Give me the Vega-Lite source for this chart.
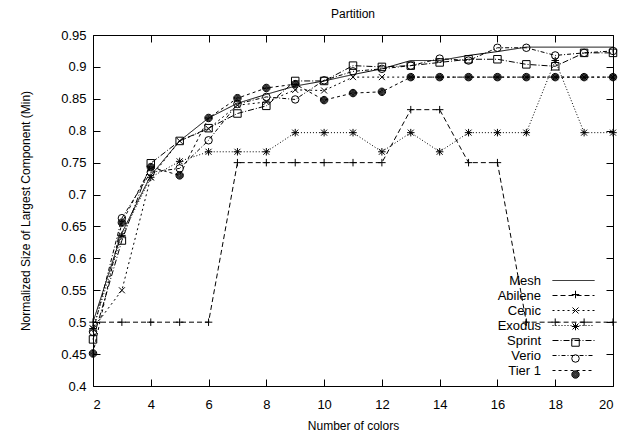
{
  "$schema": "https://vega.github.io/schema/vega-lite/v6.json",
  "width": 520,
  "height": 351,
  "autosize": {"type": "none"},
  "padding": {"left": 93, "top": 35, "right": 21, "bottom": 50},
  "background": "white",
  "title": {"text": "Partition", "fontSize": 12, "font": "Liberation Sans", "fontWeight": "normal", "offset": 8, "anchor": "middle", "color": "black"},
  "config": {
    "view": {"stroke": "black", "strokeWidth": 1},
    "font": "Liberation Sans",
    "axis": {"grid": false, "domain": false, "tickColor": "black", "labelColor": "black", "titleColor": "black", "labelFontSize": 13, "titleFontSize": 12, "titleFontWeight": "normal", "labelFont": "Liberation Sans", "titleFont": "Liberation Sans"}
  },
  "data": {"values": [
    {"s":"Mesh","x":2,"y":0.5},{"s":"Mesh","x":3,"y":0.64},{"s":"Mesh","x":4,"y":0.73},{"s":"Mesh","x":5,"y":0.784},{"s":"Mesh","x":6,"y":0.82},{"s":"Mesh","x":7,"y":0.843},{"s":"Mesh","x":8,"y":0.857},{"s":"Mesh","x":9,"y":0.870},{"s":"Mesh","x":10,"y":0.878},{"s":"Mesh","x":11,"y":0.888},{"s":"Mesh","x":12,"y":0.897},{"s":"Mesh","x":13,"y":0.91},{"s":"Mesh","x":14,"y":0.91},{"s":"Mesh","x":15,"y":0.918},{"s":"Mesh","x":16,"y":0.924},{"s":"Mesh","x":17,"y":0.931},{"s":"Mesh","x":18,"y":0.931},{"s":"Mesh","x":19,"y":0.931},{"s":"Mesh","x":20,"y":0.931},
    {"s":"Abilene","x":2,"y":0.5},{"s":"Abilene","x":3,"y":0.5},{"s":"Abilene","x":4,"y":0.5},{"s":"Abilene","x":5,"y":0.5},{"s":"Abilene","x":6,"y":0.5},{"s":"Abilene","x":7,"y":0.75},{"s":"Abilene","x":8,"y":0.75},{"s":"Abilene","x":9,"y":0.75},{"s":"Abilene","x":10,"y":0.75},{"s":"Abilene","x":11,"y":0.75},{"s":"Abilene","x":12,"y":0.75},{"s":"Abilene","x":13,"y":0.833},{"s":"Abilene","x":14,"y":0.833},{"s":"Abilene","x":15,"y":0.75},{"s":"Abilene","x":16,"y":0.75},{"s":"Abilene","x":17,"y":0.5},{"s":"Abilene","x":18,"y":0.5},{"s":"Abilene","x":19,"y":0.5},{"s":"Abilene","x":20,"y":0.5},
    {"s":"Cenic","x":2,"y":0.49},{"s":"Cenic","x":3,"y":0.55},{"s":"Cenic","x":4,"y":0.727},{"s":"Cenic","x":5,"y":0.784},{"s":"Cenic","x":6,"y":0.803},{"s":"Cenic","x":7,"y":0.84},{"s":"Cenic","x":8,"y":0.845},{"s":"Cenic","x":9,"y":0.864},{"s":"Cenic","x":10,"y":0.863},{"s":"Cenic","x":11,"y":0.884},{"s":"Cenic","x":12,"y":0.884},{"s":"Cenic","x":13,"y":0.884},{"s":"Cenic","x":14,"y":0.884},{"s":"Cenic","x":15,"y":0.884},{"s":"Cenic","x":16,"y":0.884},{"s":"Cenic","x":17,"y":0.884},{"s":"Cenic","x":18,"y":0.884},{"s":"Cenic","x":19,"y":0.884},{"s":"Cenic","x":20,"y":0.884},
    {"s":"Exodus","x":2,"y":0.49},{"s":"Exodus","x":3,"y":0.636},{"s":"Exodus","x":4,"y":0.727},{"s":"Exodus","x":5,"y":0.752},{"s":"Exodus","x":6,"y":0.767},{"s":"Exodus","x":7,"y":0.767},{"s":"Exodus","x":8,"y":0.767},{"s":"Exodus","x":9,"y":0.797},{"s":"Exodus","x":10,"y":0.797},{"s":"Exodus","x":11,"y":0.797},{"s":"Exodus","x":12,"y":0.767},{"s":"Exodus","x":13,"y":0.797},{"s":"Exodus","x":14,"y":0.767},{"s":"Exodus","x":15,"y":0.797},{"s":"Exodus","x":16,"y":0.797},{"s":"Exodus","x":17,"y":0.797},{"s":"Exodus","x":18,"y":0.91},{"s":"Exodus","x":19,"y":0.797},{"s":"Exodus","x":20,"y":0.797},
    {"s":"Sprint","x":2,"y":0.473},{"s":"Sprint","x":3,"y":0.628},{"s":"Sprint","x":4,"y":0.749},{"s":"Sprint","x":5,"y":0.784},{"s":"Sprint","x":6,"y":0.804},{"s":"Sprint","x":7,"y":0.827},{"s":"Sprint","x":8,"y":0.839},{"s":"Sprint","x":9,"y":0.878},{"s":"Sprint","x":10,"y":0.878},{"s":"Sprint","x":11,"y":0.902},{"s":"Sprint","x":12,"y":0.900},{"s":"Sprint","x":13,"y":0.902},{"s":"Sprint","x":14,"y":0.907},{"s":"Sprint","x":15,"y":0.912},{"s":"Sprint","x":16,"y":0.912},{"s":"Sprint","x":17,"y":0.904},{"s":"Sprint","x":18,"y":0.901},{"s":"Sprint","x":19,"y":0.922},{"s":"Sprint","x":20,"y":0.922},
    {"s":"Verio","x":2,"y":0.485},{"s":"Verio","x":3,"y":0.663},{"s":"Verio","x":4,"y":0.735},{"s":"Verio","x":5,"y":0.741},{"s":"Verio","x":6,"y":0.785},{"s":"Verio","x":7,"y":0.842},{"s":"Verio","x":8,"y":0.853},{"s":"Verio","x":9,"y":0.849},{"s":"Verio","x":10,"y":0.879},{"s":"Verio","x":11,"y":0.893},{"s":"Verio","x":12,"y":0.897},{"s":"Verio","x":13,"y":0.902},{"s":"Verio","x":14,"y":0.913},{"s":"Verio","x":15,"y":0.910},{"s":"Verio","x":16,"y":0.930},{"s":"Verio","x":17,"y":0.930},{"s":"Verio","x":18,"y":0.918},{"s":"Verio","x":19,"y":0.922},{"s":"Verio","x":20,"y":0.925},
    {"s":"Tier 1","x":2,"y":0.451},{"s":"Tier 1","x":3,"y":0.656},{"s":"Tier 1","x":4,"y":0.743},{"s":"Tier 1","x":5,"y":0.730},{"s":"Tier 1","x":6,"y":0.820},{"s":"Tier 1","x":7,"y":0.851},{"s":"Tier 1","x":8,"y":0.867},{"s":"Tier 1","x":9,"y":0.873},{"s":"Tier 1","x":10,"y":0.848},{"s":"Tier 1","x":11,"y":0.859},{"s":"Tier 1","x":12,"y":0.861},{"s":"Tier 1","x":13,"y":0.884},{"s":"Tier 1","x":14,"y":0.884},{"s":"Tier 1","x":15,"y":0.884},{"s":"Tier 1","x":16,"y":0.884},{"s":"Tier 1","x":17,"y":0.884},{"s":"Tier 1","x":18,"y":0.884},{"s":"Tier 1","x":19,"y":0.884},{"s":"Tier 1","x":20,"y":0.884}
  ]},
  "resolve": {"axis": {"x": "independent", "y": "independent"}},
  "layer": [
    {
      "mark": {"type": "line", "stroke": "black", "strokeWidth": 1},
      "encoding": {
        "x": {"field": "x", "type": "quantitative", "scale": {"domain": [2, 20], "nice": false, "zero": false},
              "axis": {"orient": "bottom", "values": [2,4,6,8,10,12,14,16,18,20], "tickSize": -7, "labelPadding": 19, "title": "Number of colors", "titlePadding": 9}},
        "y": {"field": "y", "type": "quantitative", "scale": {"domain": [0.4, 0.95], "nice": false, "zero": false},
              "axis": {"orient": "left", "values": [0.4,0.45,0.5,0.55,0.6,0.65,0.7,0.75,0.8,0.85,0.9,0.95], "format": "~g", "tickSize": -7, "labelPadding": 14, "title": "Normalized Size of Largest Component (Min)", "titlePadding": 28}},
        "strokeDash": {"field": "s", "type": "nominal",
          "scale": {"domain": ["Mesh","Abilene","Cenic","Exodus","Sprint","Verio","Tier 1"], "range": [[1,0],[5,3],[2,3],[1,2],[6,2,1,2],[4,2,1,2],[3,3]]},
          "legend": {"title": null, "orient": "none", "legendX": 473, "legendY": 238, "padding": 0, "symbolType": "M-3,0H3", "symbolSize": 196, "symbolStrokeColor": "black", "symbolStrokeWidth": 1, "labelAlign": "right", "labelOffset": -40, "labelFontSize": 13, "labelColor": "black", "labelFont": "Liberation Sans", "rowPadding": 0, "labelLimit": 200}}
      }
    },
    {
      "transform": [{"filter": "datum.s !== 'Mesh'"}],
      "mark": {"type": "point", "stroke": "black", "strokeWidth": 1, "size": 56, "filled": false, "opacity": 1},
      "encoding": {
        "x": {"field": "x", "type": "quantitative", "axis": {"orient": "top", "values": [2,4,6,8,10,12,14,16,18,20], "labels": false, "tickSize": -7, "title": null}},
        "y": {"field": "y", "type": "quantitative", "axis": {"orient": "right", "values": [0.4,0.45,0.5,0.55,0.6,0.65,0.7,0.75,0.8,0.85,0.9,0.95], "labels": false, "tickSize": -7, "title": null}},
        "shape": {"field": "s", "type": "nominal",
          "scale": {"domain": ["Abilene","Cenic","Exodus","Sprint","Verio","Tier 1"], "range": ["M-1,0H1M0,-1V1", "M-0.8,-0.8L0.8,0.8M-0.8,0.8L0.8,-0.8", "M-1,0H1M0,-1V1M-0.8,-0.8L0.8,0.8M-0.8,0.8L0.8,-0.8", "square", "circle", "M1,0A1,1 0 1,1 -1,0A1,1 0 1,1 1,0M0.8,0A0.8,0.8 0 1,1 -0.8,0A0.8,0.8 0 1,1 0.8,0M0.6,0A0.6,0.6 0 1,1 -0.6,0A0.6,0.6 0 1,1 0.6,0M0.4,0A0.4,0.4 0 1,1 -0.4,0A0.4,0.4 0 1,1 0.4,0M0.2,0A0.2,0.2 0 1,1 -0.2,0A0.2,0.2 0 1,1 0.2,0"]},
          "legend": {"title": null, "orient": "none", "legendX": 476, "legendY": 253, "padding": 0, "symbolSize": 56, "symbolStrokeColor": "black", "symbolFillColor": "transparent", "symbolStrokeWidth": 1, "labelOpacity": 0, "labelFontSize": 13, "labelFont": "Liberation Sans", "rowPadding": 2}}
      }
    }
  ]
}
